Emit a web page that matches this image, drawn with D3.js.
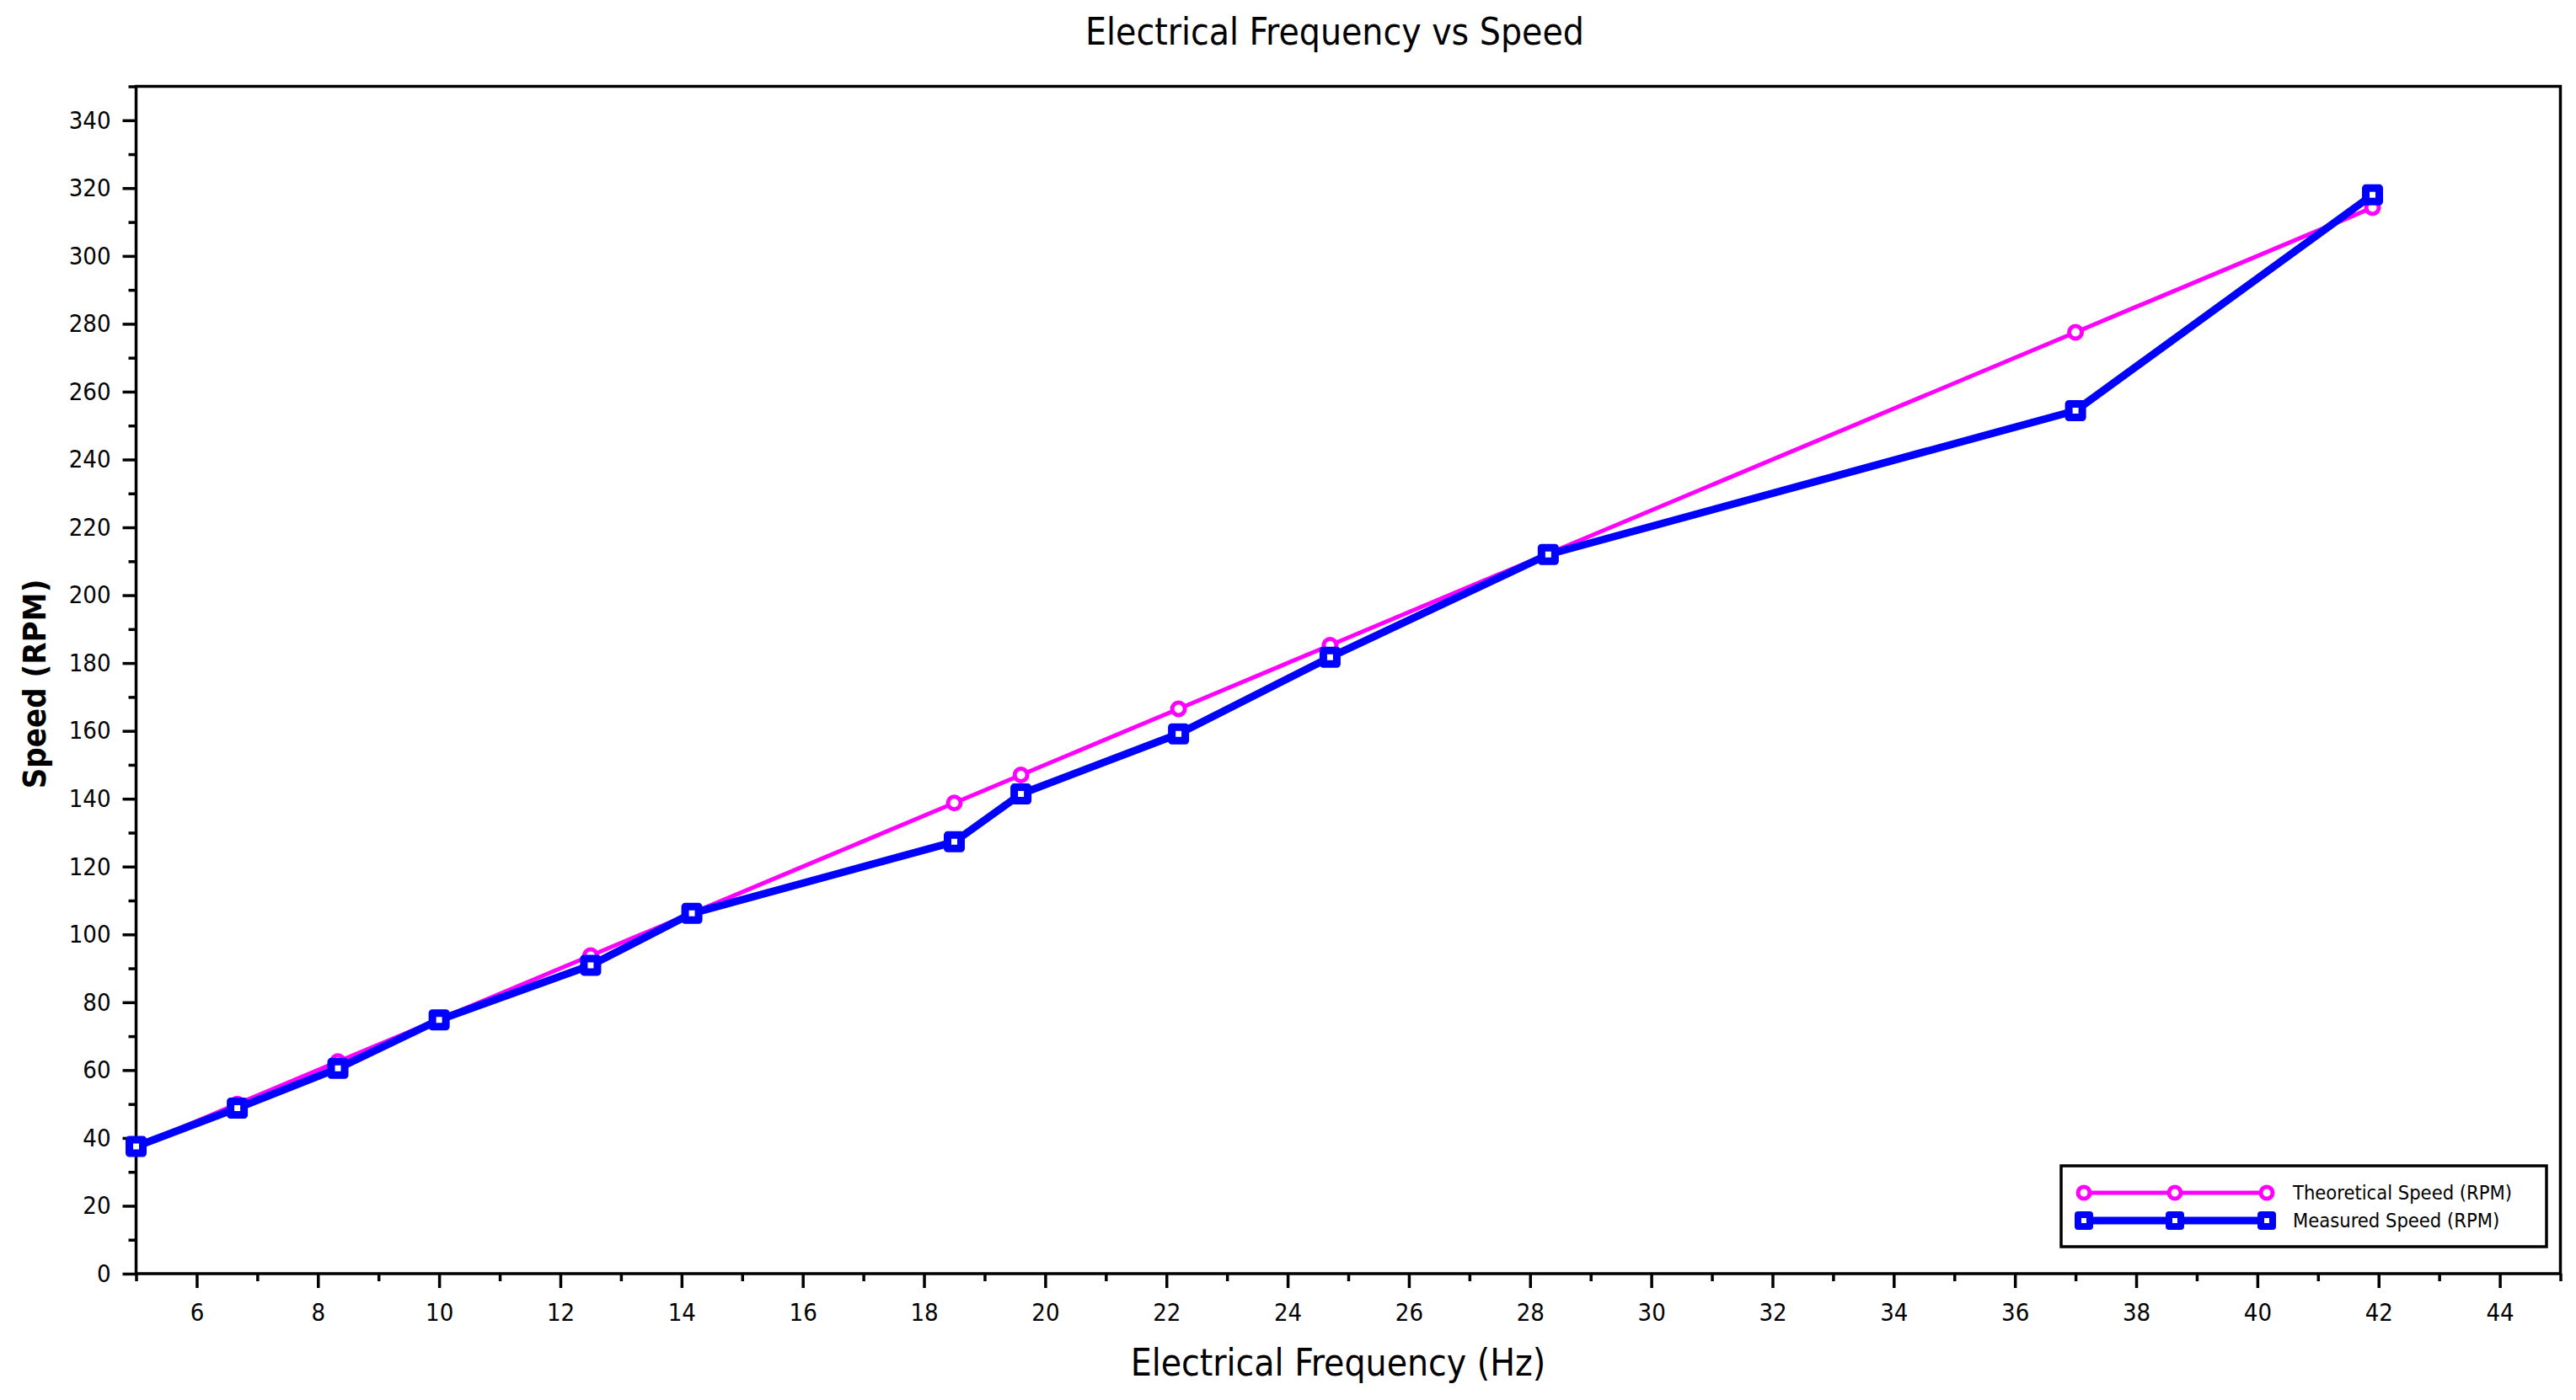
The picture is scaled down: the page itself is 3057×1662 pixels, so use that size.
<!DOCTYPE html>
<html>
<head>
<meta charset="utf-8">
<script src="https://cdn.jsdelivr.net/npm/d3@7"></script>
<style>
  body { margin: 0; background: white; }
  text { font-family: "DejaVu Sans Condensed", "DejaVu Sans", sans-serif; }
</style>
</head>
<body>
<svg id="chart" width="3057" height="1662"></svg>
<script>
var freq = [5, 6.67, 8.33, 10, 12.5, 14.17, 18.5, 19.6, 22.2, 24.7, 28.3, 37, 41.9];
var theoretical = [37.5, 50, 62.5, 75, 93.75, 106.25, 138.75, 147, 166.5, 185.25, 212.25, 277.5, 314.25];
var measured = [37.5, 48.8, 60.5, 74.8, 90.9, 106.2, 127.3, 141.4, 159.1, 181.7, 212, 254.4, 318];

var xMajor = d3.range(6, 45, 2);
var xMinor = d3.range(5, 46, 2);
var yMajor = d3.range(0, 341, 20);
var yMinor = d3.range(10, 351, 20);

var seriesNames = ['Theoretical Speed (RPM)', 'Measured Speed (RPM)'];

// note: "top" is taken by window.top, so plot edges get their own names
var plotLeft = 161.5, plotRight = 3038.5, plotTop = 102.5, plotBottom = 1512;

var svg = d3.select('#chart');

var x = d3.scaleLinear().domain([5, 45]).range([plotLeft, plotRight]);
var y = d3.scaleLinear().domain([0, 350]).range([plotBottom, plotTop]);

// minor ticks first, then the labelled ones
svg.append('g')
  .attr('transform', 'translate(0,' + plotBottom + ')')
  .call(d3.axisBottom(x).tickValues(xMinor).tickSize(9).tickFormat(''))
  .call(function(g){ g.select('.domain').remove(); });
svg.append('g')
  .attr('transform', 'translate(' + plotLeft + ',0)')
  .call(d3.axisLeft(y).tickValues(yMinor).tickSize(9).tickFormat(''))
  .call(function(g){ g.select('.domain').remove(); });

var xAxis = svg.append('g')
  .attr('transform', 'translate(0,' + plotBottom + ')')
  .call(d3.axisBottom(x).tickValues(xMajor).tickSize(17).tickPadding(18).tickFormat(d3.format('d')));
xAxis.select('.domain').remove();

var yAxis = svg.append('g')
  .attr('transform', 'translate(' + plotLeft + ',0)')
  .call(d3.axisLeft(y).tickValues(yMajor).tickSize(16).tickPadding(14).tickFormat(d3.format('d')));
yAxis.select('.domain').remove();

svg.selectAll('.tick line').attr('stroke', 'black').attr('stroke-width', 3.5);
svg.selectAll('.tick text')
  .style('font-family', '"DejaVu Sans Condensed", sans-serif')
  .style('font-size', '29px')
  .attr('fill', 'black');

// plot frame
svg.append('rect')
  .attr('x', plotLeft).attr('y', plotTop)
  .attr('width', plotRight - plotLeft).attr('height', plotBottom - plotTop)
  .attr('fill', 'none')
  .attr('stroke', 'black')
  .attr('stroke-width', 3.5);

var theoPts = freq.map(function(f, i){ return [f, theoretical[i]]; });
var measPts = freq.map(function(f, i){ return [f, measured[i]]; });

var line = d3.line()
  .x(function(d){ return x(d[0]); })
  .y(function(d){ return y(d[1]); });

svg.append('path')
  .datum(theoPts)
  .attr('d', line)
  .attr('fill', 'none')
  .attr('stroke', '#ff00ff')
  .attr('stroke-width', 5);

svg.append('g').selectAll('circle')
  .data(theoPts)
  .enter()
  .append('circle')
  .attr('cx', function(d){ return x(d[0]); })
  .attr('cy', function(d){ return y(d[1]); })
  .attr('r', 7.5)
  .style('fill', 'white')
  .style('stroke', '#ff00ff')
  .style('stroke-width', 5);

svg.append('path')
  .datum(measPts)
  .attr('d', line)
  .attr('fill', 'none')
  .attr('stroke', '#0000ff')
  .attr('stroke-width', 9)
  .attr('stroke-linejoin', 'round');

svg.append('g').selectAll('rect')
  .data(measPts)
  .enter()
  .append('rect')
  .attr('x', function(d){ return x(d[0]) - 8; })
  .attr('y', function(d){ return y(d[1]) - 8; })
  .attr('width', 16)
  .attr('height', 16)
  .style('fill', 'white')
  .style('stroke', '#0000ff')
  .style('stroke-width', 9)
  .style('stroke-linejoin', 'round');

// legend
var legend = svg.append('g');
legend.append('rect')
  .attr('x', 2446).attr('y', 1384)
  .attr('width', 576).attr('height', 96)
  .attr('fill', 'white')
  .attr('stroke', 'black')
  .attr('stroke-width', 3.5);

var sampleX = [2473, 2581, 2690];
var rows = [
  {name: seriesNames[0], color: '#ff00ff', width: 5, shape: 'circle', y: 1416},
  {name: seriesNames[1], color: '#0000ff', width: 9, shape: 'square', y: 1449}
];

rows.forEach(function(r){
  legend.append('line')
    .attr('x1', sampleX[0]).attr('x2', sampleX[2])
    .attr('y1', r.y).attr('y2', r.y)
    .attr('stroke', r.color)
    .attr('stroke-width', r.width);
  sampleX.forEach(function(sx){
    if (r.shape === 'circle') {
      legend.append('circle')
        .attr('cx', sx).attr('cy', r.y).attr('r', 7)
        .style('fill', 'white').style('stroke', r.color).style('stroke-width', 5);
    } else {
      legend.append('rect')
        .attr('x', sx - 7).attr('y', r.y - 7).attr('width', 14).attr('height', 14)
        .style('fill', 'white').style('stroke', r.color).style('stroke-width', 8)
        .style('stroke-linejoin', 'round');
    }
  });
  legend.append('text')
    .attr('x', 2721).attr('y', r.y)
    .attr('dy', '0.35em')
    .style('font-size', '23.5px')
    .text(r.name);
});

// titles
svg.append('text')
  .attr('x', 1584).attr('y', 53)
  .attr('text-anchor', 'middle')
  .style('font-size', '44px')
  .text('Electrical Frequency vs Speed');

svg.append('text')
  .attr('x', 1588).attr('y', 1633)
  .attr('text-anchor', 'middle')
  .style('font-size', '44px')
  .text('Electrical Frequency (Hz)');

svg.append('text')
  .attr('transform', 'translate(54,812) rotate(-90)')
  .attr('text-anchor', 'middle')
  .style('font-family', '"DejaVu Sans Condensed", sans-serif')
  .style('font-weight', 'bold')
  .style('font-size', '38px')
  .text('Speed (RPM)');
</script>
</body>
</html>
